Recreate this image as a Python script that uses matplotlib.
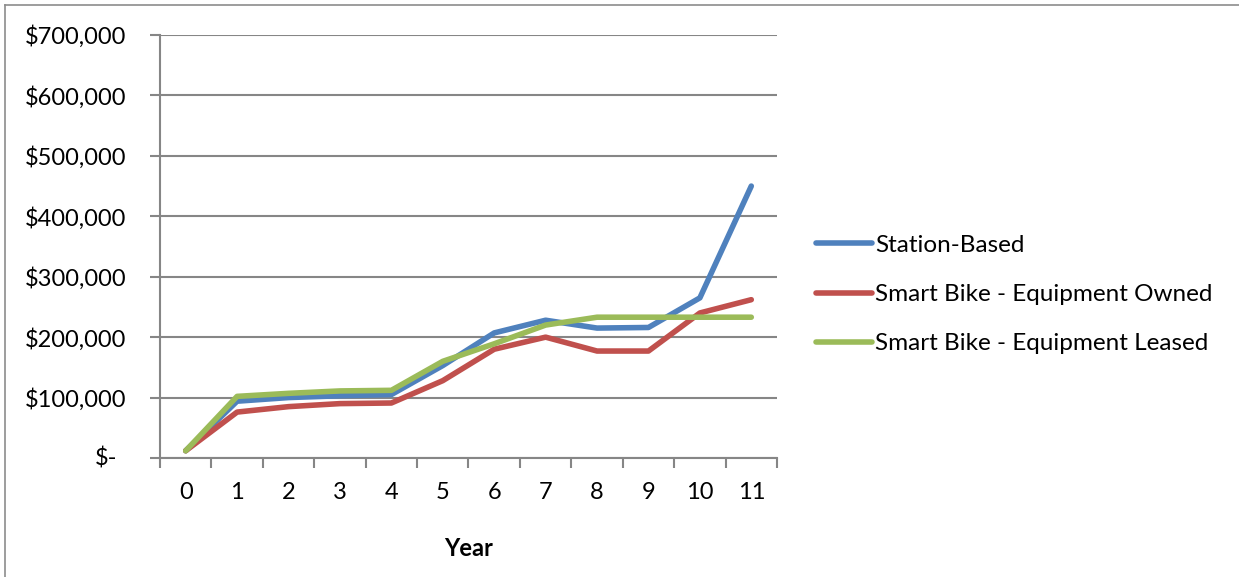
import matplotlib
matplotlib.use("Agg")
import matplotlib.pyplot as plt
from matplotlib.lines import Line2D
from matplotlib.ticker import FuncFormatter, FixedLocator

years = list(range(12))
station_based = [12000, 94000, 100000, 103000, 105000, 153000, 207000, 228000, 215000, 216000, 265000, 450000]
equip_owned = [12000, 76000, 85000, 90000, 91000, 128000, 180000, 200000, 177000, 177000, 240000, 262000]
equip_leased = [12000, 102000, 107000, 111000, 112000, 160000, 189000, 220000, 233000, 233000, 233000, 233000]

series_names = ["Station-Based", "Smart Bike - Equipment Owned", "Smart Bike - Equipment Leased"]
colors = ["#4F81BD", "#C0504D", "#9BBB59"]

plt.rcParams['font.family'] = ['Lato', 'DejaVu Sans']

fig = plt.figure(figsize=(12.39, 5.77), dpi=100)
ax = fig.add_axes([160 / 1239, 1 - 458 / 577, (777 - 160) / 1239, (458 - 35) / 577])

# outer chart-area border (left and top visible in the crop)
border_color = "#8c8c8c"
fig.add_artist(Line2D([5 / 1239, 5 / 1239], [0, 1 - 5 / 577], transform=fig.transFigure, color=border_color, lw=1.2))
fig.add_artist(Line2D([5 / 1239, 1], [1 - 5 / 577, 1 - 5 / 577], transform=fig.transFigure, color=border_color, lw=1.2))

for vals, name, c in zip([station_based, equip_owned, equip_leased], series_names, colors):
    ax.plot(years, vals, color=c, lw=4, label=name, solid_capstyle='round', solid_joinstyle='round')

ax.set_xlim(-0.5, 11.5)
ax.set_ylim(0, 700000)

grid_color = "#868686"
ax.yaxis.set_major_locator(FixedLocator(range(0, 700001, 100000)))
ax.grid(axis='y', color=grid_color, lw=1.5)
ax.set_axisbelow(True)

ax.set_xticks(years)
ax.set_xticklabels([str(y) for y in years])
ax.xaxis.set_minor_locator(FixedLocator([y - 0.5 for y in years] + [11.5]))
ax.tick_params(axis='x', which='major', length=0, pad=17, labelsize=17)
ax.tick_params(axis='x', which='minor', length=7, width=1.5, color=grid_color, direction='out')
ax.tick_params(axis='y', length=7, width=1.5, color=grid_color, pad=17, labelsize=17)


def money(v, pos):
    if v == 0:
        return ""
    return f"${v:,.0f}"


ax.yaxis.set_major_formatter(FuncFormatter(money))
ax.annotate("$-", xy=(0, 0), xycoords=('axes fraction', 'data'), xytext=(-30.5, 0),
            textcoords='offset points', ha='right', va='center', fontsize=17)

for side in ['top', 'right']:
    ax.spines[side].set_visible(False)
for side in ['left', 'bottom']:
    ax.spines[side].set_color(grid_color)
    ax.spines[side].set_linewidth(1.5)

ax.set_xlabel("Year", fontsize=17, fontweight='bold', labelpad=25)

leg = fig.legend(loc='upper left', bbox_to_anchor=(794 / 1239, 1 - 213 / 577), frameon=False,
                 fontsize=17.5, handlelength=2.3, handletextpad=0.15, labelspacing=1.16)

fig.savefig("out.png", dpi=100)
